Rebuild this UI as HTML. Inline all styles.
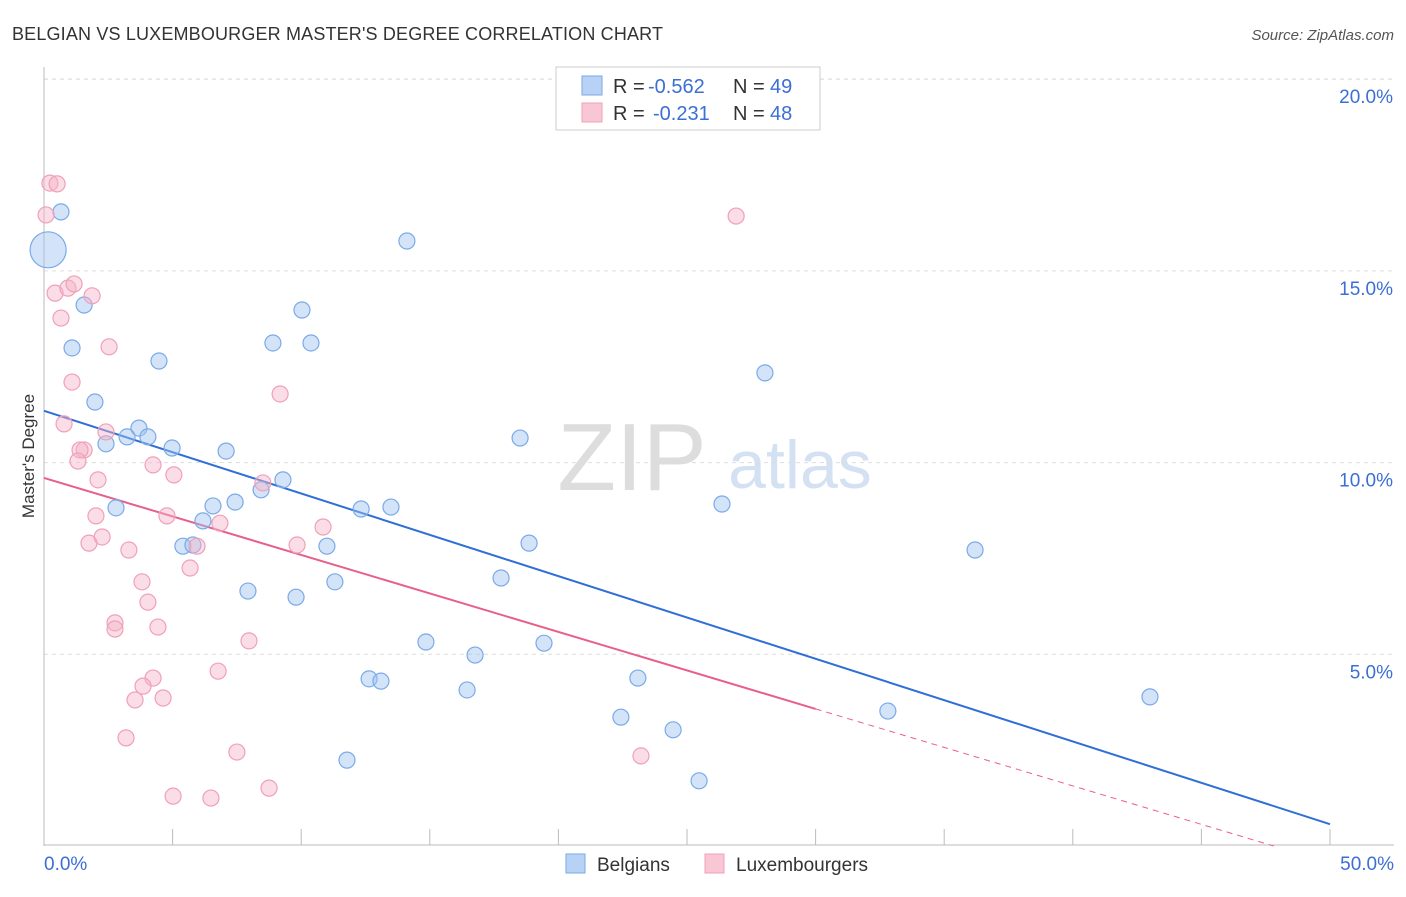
<!DOCTYPE html>
<html><head><meta charset="utf-8">
<style>
body{margin:0;background:#fff;font-family:"Liberation Sans",sans-serif;}
svg text{font-family:"Liberation Sans",sans-serif;}
</style></head>
<body>
<svg id="chart" width="1406" height="892" xmlns="http://www.w3.org/2000/svg">
<text x="12" y="40" font-size="18" fill="#333" textLength="651">BELGIAN VS LUXEMBOURGER MASTER'S DEGREE CORRELATION CHART</text>
<text x="1394" y="40" font-size="15" fill="#555" font-style="italic" text-anchor="end">Source: ZipAtlas.com</text>
<text x="0" y="0" transform="translate(34,456) rotate(-90)" font-size="17" fill="#333" text-anchor="middle">Master's Degree</text>
<g>
<text x="632" y="490" font-size="96" fill="#ddd" font-family="Liberation Serif" text-anchor="middle">ZIP</text>
<text x="800" y="488" font-size="68" fill="#d3e1f3" text-anchor="middle">atlas</text>
</g>
<g id="grid"></g><g id="axes"></g><g id="lines"></g><g id="pts"></g>
<g>
<rect x="556" y="67" width="264" height="63" fill="#fff" stroke="#ccc"/>
<rect x="582" y="76" width="20" height="19" fill="#b8d2f5" stroke="#7aaae8"/>
<rect x="582" y="103" width="20" height="19" fill="#f9c6d6" stroke="#f0a0b8"/>
<text x="613" y="93" font-size="20" fill="#333">R =</text>
<text x="648" y="93" font-size="20" fill="#3b6fd4">-0.562</text>
<text x="733" y="93" font-size="20" fill="#333">N =</text>
<text x="770" y="93" font-size="20" fill="#3b6fd4">49</text>
<text x="613" y="120" font-size="20" fill="#333">R =</text>
<text x="653" y="120" font-size="20" fill="#3b6fd4">-0.231</text>
<text x="733" y="120" font-size="20" fill="#333">N =</text>
<text x="770" y="120" font-size="20" fill="#3b6fd4">48</text>
</g>
<g>
<rect x="566" y="854" width="19" height="19" fill="#b8d2f5" stroke="#7aaae8"/>
<text x="597" y="871" font-size="19" fill="#333">Belgians</text>
<rect x="705" y="854" width="19" height="19" fill="#f9c6d6" stroke="#f0a0b8"/>
<text x="736" y="871" font-size="19" fill="#333">Luxembourgers</text>
</g>
</svg>
<script>
const yTicks=[5,10,15,20];
const xTickLabels=["0.0%","50.0%"];
const belgX=[0.16,0.66,1.56,1.09,4.47,1.98,3.69,3.23,4.04,2.41,4.98,7.08,2.80,6.57,7.43,6.18,8.44,9.29,5.40,5.79,8.90,10.38,10.03,14.11,12.33,13.49,11.00,7.93,9.80,11.31,14.85,12.64,13.10,16.76,16.45,11.78,17.77,18.51,18.86,19.44,23.09,22.43,24.46,25.47,26.36,28.03,32.81,36.20,43.00];
const belgY=[15.55,16.54,14.11,12.99,12.65,11.58,10.90,10.67,10.67,10.49,10.38,10.30,8.82,8.87,8.97,8.48,9.29,9.55,7.82,7.85,13.12,13.12,13.98,15.78,8.79,8.84,7.82,6.65,6.49,6.89,5.32,4.36,4.30,4.98,4.07,2.24,6.99,10.64,7.90,5.29,4.38,3.36,3.03,1.70,8.92,12.34,3.52,7.72,3.89];
const luxX=[0.23,0.51,0.08,0.43,0.93,1.17,1.87,0.66,2.53,1.09,0.78,1.56,1.40,1.32,2.41,2.10,4.24,5.05,2.02,4.78,1.75,2.26,3.30,5.95,5.68,6.84,8.51,9.18,9.84,10.85,3.81,4.04,2.76,2.76,4.43,7.97,6.77,4.24,3.85,3.54,4.63,3.19,7.50,5.02,6.49,8.75,23.21,26.91];
const luxY=[17.29,17.27,16.46,14.42,14.55,14.66,14.35,13.77,13.02,12.10,11.01,10.33,10.33,10.04,10.80,9.55,9.94,9.68,8.61,8.61,7.90,8.06,7.72,7.82,7.25,8.42,9.47,11.79,7.85,8.32,6.89,6.36,5.82,5.66,5.71,5.35,4.56,4.38,4.17,3.81,3.86,2.82,2.45,1.30,1.25,1.51,2.35,16.43];
const belgTrend=[11.35,-0.2156];
const luxTrend=[9.60,-0.2008];
const luxSolidEnd=30;
const NS="http://www.w3.org/2000/svg";
const X=v=>44+v*25.72, Y=v=>846-v*38.34;
function mk(p,t,a){const e=document.createElementNS(NS,t);for(const k in a)e.setAttribute(k,a[k]);p.appendChild(e);return e;}
const grid=document.getElementById('grid'),axes=document.getElementById('axes'),lines=document.getElementById('lines'),pts=document.getElementById('pts');
mk(grid,'line',{x1:44,x2:1394,y1:79,y2:79,stroke:'#ddd','stroke-dasharray':'4,4'});
yTicks.forEach(t=>{
 const l=mk(grid,'line',{x1:44,x2:1394,y1:Y(t),y2:Y(t),stroke:'#ddd','stroke-dasharray':'4,4'});
 
 
 const tx=mk(axes,'text',{x:1393,y:Y(t)+24,'font-size':19,fill:'#3b6fd4','text-anchor':'end'});
 tx.textContent=t.toFixed(1)+'%';
 
 
});
mk(axes,'line',{x1:44,x2:44,y1:67,y2:846,stroke:'#bbb'});
mk(axes,'line',{x1:44,x2:1394,y1:845,y2:845,stroke:'#bbb'});
for(let i=0;i<=10;i++){const tk=mk(axes,'line',{x1:X(i*5),x2:X(i*5),y1:829,y2:845,stroke:'#bbb'});
 
 }
[[0,'start',44],[50,'end',1394]].forEach((d,i)=>{const t=mk(axes,'text',{x:d[2],y:870,'font-size':19,fill:'#3b6fd4','text-anchor':d[1]});t.textContent=xTickLabels[i];
 
 });
const bl=mk(lines,'line',{x1:X(0),y1:Y(belgTrend[0]),x2:X(50),y2:Y(belgTrend[0]+belgTrend[1]*50),stroke:'#2f6fd6','stroke-width':2});


const pl=mk(lines,'line',{x1:X(0),y1:Y(luxTrend[0]),x2:X(luxSolidEnd),y2:Y(luxTrend[0]+luxTrend[1]*luxSolidEnd),stroke:'#e8608a','stroke-width':2});


const xEnd=-luxTrend[0]/luxTrend[1];
const pd=mk(lines,'line',{x1:X(luxSolidEnd),y1:Y(luxTrend[0]+luxTrend[1]*luxSolidEnd),x2:X(xEnd),y2:Y(0),stroke:'#e8608a','stroke-width':1,'stroke-dasharray':'6,5'});


belgX.forEach((x,i)=>{const c=mk(pts,'circle',{cx:X(x),cy:Y(belgY[i]),r:i==0?18:8,fill:'rgba(160,195,240,0.45)',stroke:'#7aaae8','stroke-width':1.2});
 
 });
luxX.forEach((x,i)=>{const c=mk(pts,'circle',{cx:X(x),cy:Y(luxY[i]),r:8,fill:'rgba(245,180,200,0.45)',stroke:'#f0a0b8','stroke-width':1.2});
 
 });
</script>
</body></html>
